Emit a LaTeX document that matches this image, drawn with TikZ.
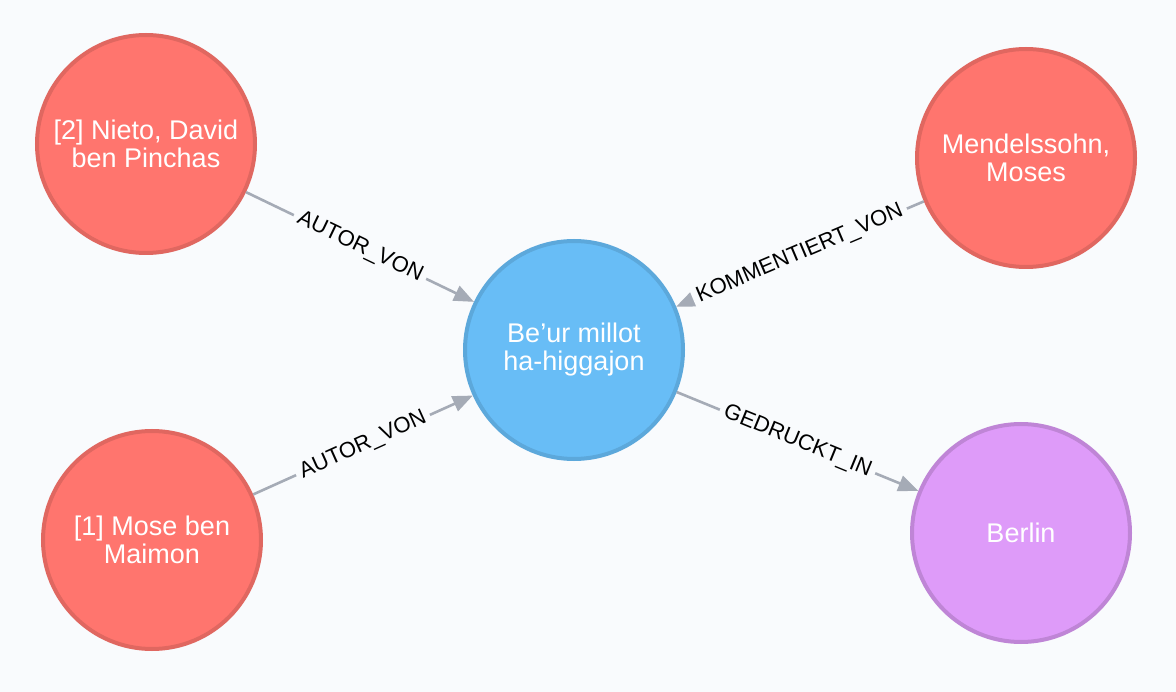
\documentclass[tikz,border=0pt]{standalone}
\usepackage{fontspec}
\setmainfont{Liberation Sans}
\usetikzlibrary{arrows.meta}
\definecolor{fondpale}{HTML}{F9FBFD}
\definecolor{rouge}{HTML}{FF756E}
\definecolor{rougebord}{HTML}{E06760}
\definecolor{bleu}{HTML}{68BDF6}
\definecolor{bleubord}{HTML}{5CA8DB}
\definecolor{violet}{HTML}{DE9BF9}
\definecolor{violetbord}{HTML}{BF85D6}
\definecolor{lien}{HTML}{A5ABB6}
\begin{document}
\begin{tikzpicture}[x=1pt,y=-1pt,
  noeud/.style={circle,minimum size=218pt,line width=4pt,text=white,align=center,
    font=\fontsize{27}{28}\selectfont},
  personne/.style={noeud,draw=rougebord,fill=rouge},
  oeuvre/.style={noeud,draw=bleubord,fill=bleu},
  lieu/.style={noeud,draw=violetbord,fill=violet},
  rel/.style={draw=lien,line width=2.6pt,-{Triangle[length=20pt,width=16pt]}},
  etiq/.style={midway,sloped,fill=fondpale,inner sep=5pt,text=black,
    font=\fontsize{22}{24}\selectfont}]
  % fond
  \fill[fondpale] (0,0) rectangle (1176,692);
  \useasboundingbox (0,0) rectangle (1176,692);
  % noeuds
  \node[oeuvre] (beur) at (574,350) {Be’ur millot\\ha-higgajon};
  \node[personne] (nieto) at (146,144) {[2] Nieto, David\\ben Pinchas};
  \node[personne] (mendelssohn) at (1026,158) {Mendelssohn,\\Moses};
  \node[personne] (mose) at (152,540) {[1] Mose ben\\Maimon};
  \node[lieu] (berlin) at (1021,533) {Berlin};
  % relations
  \draw[rel] (nieto) -- (beur) node[etiq] {AUTOR\_VON};
  \draw[rel] (mose) -- (beur) node[etiq] {AUTOR\_VON};
  \draw[rel] (mendelssohn) -- (beur) node[etiq] {KOMMENTIERT\_VON};
  \draw[rel] (beur) -- (berlin) node[etiq] {GEDRUCKT\_IN};
\end{tikzpicture}
\end{document}
